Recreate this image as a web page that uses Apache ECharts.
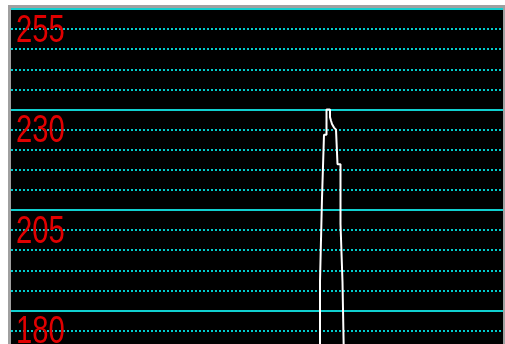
<!DOCTYPE html>
<html>
<head>
<meta charset="utf-8">
<style>
  html, body { margin: 0; padding: 0; background: #ffffff; }
  #chart { width: 505px; height: 344px; }
</style>
<script src="https://cdn.jsdelivr.net/npm/echarts@6/dist/echarts.min.js"></script>
</head>
<body>
<div id="chart"></div>
<script>
// Vertical range of the scope view and its grid levels
const yMin = 170;
const yMax = 255;
const minorStep = 5;
const majorLevels = [255, 230, 205, 180];

// Sample positions (x) and signal levels (y) of the trace, corner by corner
const traceX = [309, 309, 311, 311, 313, 313, 315.5, 315.5, 319, 319, 320, 320, 321, 321, 323, 325, 326.5, 326.5, 329.5, 329.5, 331.5, 331.5, 333.5, 333.5];
const traceY = [160, 187.3, 187.3, 208.0, 208.0, 223.7, 223.7, 230, 230, 228.1, 228.1, 227.2, 227.2, 226.4, 225.5, 225.0, 224.8, 216.4, 216.4, 201.5, 201.5, 187.1, 187.1, 160];

const sampleCount = 492;

const labelFont = '38px "Liberation Sans", Arial, sans-serif';
const labelColor = '#e00000';

const chart = echarts.init(document.getElementById('chart'), null, { renderer: 'canvas' });

const tracePoints = traceX.map((x, i) => [x, traceY[i]]);

chart.setOption({
  backgroundColor: '#ffffff',
  animation: false,
  grid: {
    left: 11, right: 2, top: 9, bottom: -6.7,
    show: true, backgroundColor: '#000000', borderWidth: 0,
    outerBoundsMode: 'none'
  },
  xAxis: {
    type: 'value', min: 0, max: sampleCount, show: false
  },
  yAxis: {
    type: 'value', min: yMin, max: yMax, interval: minorStep,
    axisLine: { show: false },
    axisTick: { show: false },
    axisLabel: { show: false },
    splitLine: {
      show: true,
      lineStyle: { color: '#00cccc', width: 2, type: [2, 2] }
    }
  },
  series: [
    {
      // solid reference levels
      type: 'line',
      data: [],
      z: 2,
      markLine: {
        silent: true,
        symbol: 'none',
        animation: false,
        label: { show: false },
        lineStyle: { color: '#10d0d0', width: 2, type: 'solid' },
        data: majorLevels.map(v => ({ yAxis: v }))
      }
    },
    {
      type: 'line',
      data: tracePoints,
      showSymbol: false,
      symbol: 'none',
      clip: true,
      z: 5,
      lineStyle: { color: '#ffffff', width: 2 }
    }
  ]
});

// Level captions in a condensed face, placed just under each solid level line
const levelLabels = majorLevels.map(v => {
  const y = chart.convertToPixel({ yAxisIndex: 0 }, v);
  return {
    type: 'text',
    z: 50,
    silent: true,
    x: 16,
    y: y + 3.5,
    scaleX: 0.77,
    style: {
      text: String(v),
      font: labelFont,
      fill: labelColor,
      align: 'left',
      verticalAlign: 'top'
    }
  };
});

chart.setOption({
  graphic: levelLabels.concat([
    {
      type: 'rect',
      z: 100,
      silent: true,
      shape: { x: 9.5, y: 6.5, width: 495, height: 400 },
      style: { fill: null, stroke: '#a0a0a0', lineWidth: 3 }
    }
  ])
});
</script>
</body>
</html>
